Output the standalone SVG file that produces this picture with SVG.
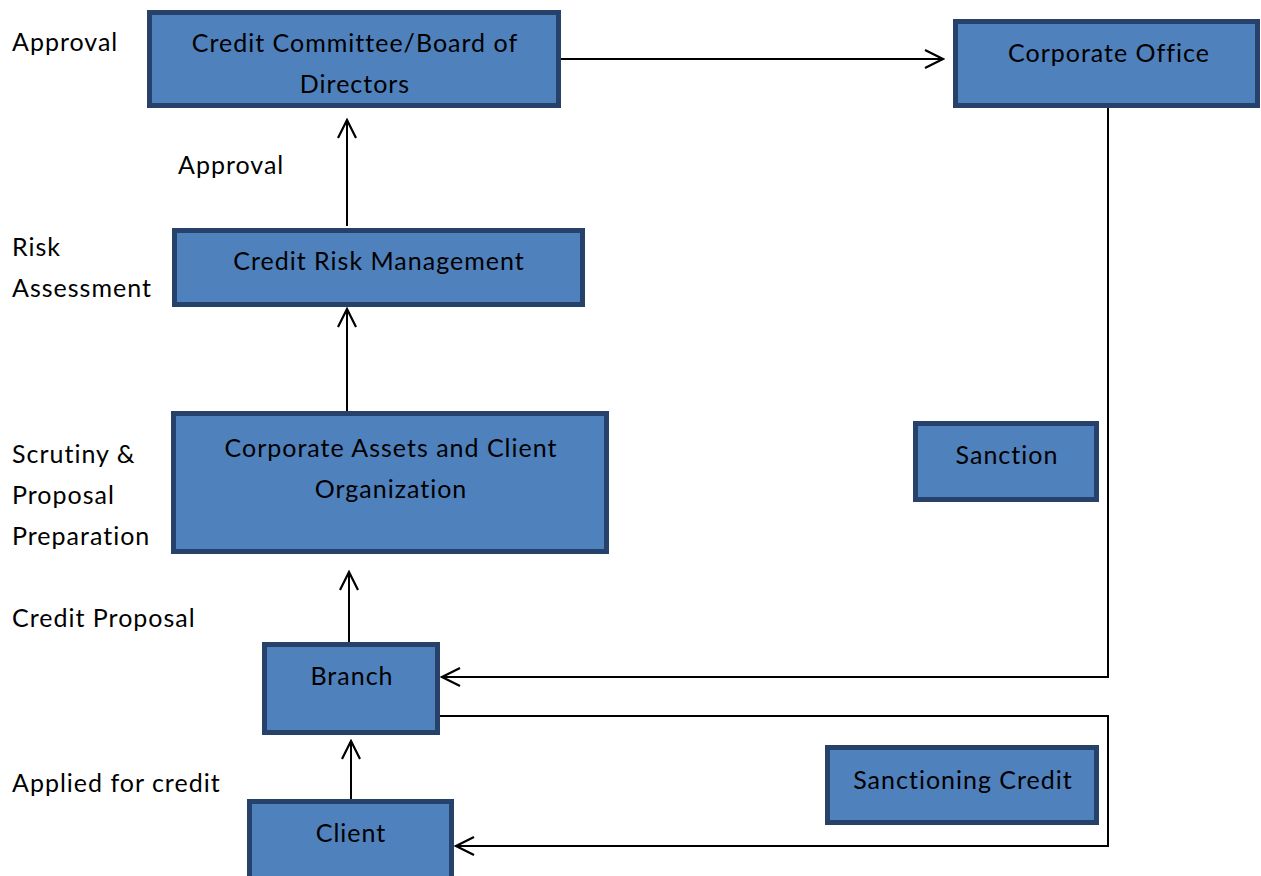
<svg xmlns="http://www.w3.org/2000/svg" width="1261" height="876" viewBox="0 0 1261 876">
<style>
.box{fill:#4F81BD;stroke:#26426A;stroke-width:5}
.t{font-family:Lato,"Liberation Sans",sans-serif;font-size:25px;letter-spacing:1px;fill:#000}
.c{text-anchor:middle}
.ln{fill:none;stroke:#000;stroke-width:2}
</style>
<defs>
<marker id="ah" viewBox="0 0 22 22" refX="20" refY="11" markerWidth="22" markerHeight="22" markerUnits="userSpaceOnUse" orient="auto">
<path d="M2,2 L20,11 L2,20" fill="none" stroke="#000" stroke-width="2.2"/>
</marker>
</defs>
<rect width="1261" height="876" fill="#fff"/>
<g id="labels">
<text class="t" x="12" y="51">Approval</text>
<text class="t" x="178" y="174">Approval</text>
<text class="t" x="12" y="256">Risk</text>
<text class="t" x="12" y="297">Assessment</text>
<text class="t" x="12" y="463">Scrutiny &amp;</text>
<text class="t" x="12" y="504">Proposal</text>
<text class="t" x="12" y="545">Preparation</text>
<text class="t" x="12" y="627">Credit Proposal</text>
<text class="t" x="12" y="792">Applied for credit</text>
</g>
<g id="node-committee">
<rect class="box" x="149.5" y="12.5" width="409" height="93"/>
<text class="t c" x="355" y="52">Credit Committee/Board of</text>
<text class="t c" x="355" y="93">Directors</text>
</g>
<g id="node-corporate-office">
<rect class="box" x="955.5" y="21.5" width="302" height="84"/>
<text class="t c" x="1109" y="62">Corporate Office</text>
</g>
<g id="node-risk">
<rect class="box" x="174.5" y="230.5" width="408" height="74"/>
<text class="t c" x="379" y="270">Credit Risk Management</text>
</g>
<g id="node-assets">
<rect class="box" x="173.5" y="413.5" width="433" height="138"/>
<text class="t c" x="391" y="457">Corporate Assets and Client</text>
<text class="t c" x="391" y="498">Organization</text>
</g>
<g id="node-sanction">
<rect class="box" x="915.5" y="423.5" width="181" height="76"/>
<text class="t c" x="1007" y="464">Sanction</text>
</g>
<g id="node-branch">
<rect class="box" x="264.5" y="644.5" width="173" height="88"/>
<text class="t c" x="352" y="685">Branch</text>
</g>
<g id="node-client">
<rect class="box" x="249.5" y="801.5" width="202" height="80"/>
<text class="t c" x="351" y="842">Client</text>
</g>
<g id="node-sanctioning">
<rect class="box" x="827.5" y="747.5" width="269" height="75"/>
<text class="t c" x="963" y="789">Sanctioning Credit</text>
</g>
<g id="connectors">
<path class="ln" d="M561,59 H943" marker-end="url(#ah)"/>
<path class="ln" d="M1108,108 V677 H442" marker-end="url(#ah)"/>
<path class="ln" d="M440,716 H1108 V846 H456" marker-end="url(#ah)"/>
<path class="ln" d="M351,799 V741" marker-end="url(#ah)"/>
<path class="ln" d="M349,642 V572" marker-end="url(#ah)"/>
<path class="ln" d="M347,411 V309" marker-end="url(#ah)"/>
<path class="ln" d="M347,226 V120" marker-end="url(#ah)"/>
</g>
</svg>
